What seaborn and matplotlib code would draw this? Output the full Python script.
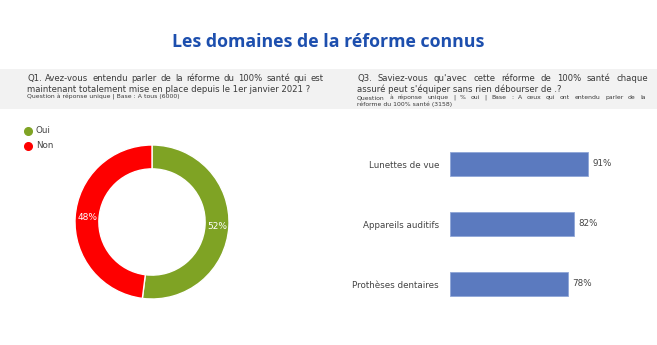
import matplotlib
matplotlib.use("Agg")
import matplotlib.pyplot as plt
import seaborn as sns
import pandas as pd
from matplotlib.patches import Rectangle

# ---- data ----
pie_labels = ["Oui", "Non"]
pie_values = [52, 48]
pie_colors = ["#7fa324", "#fe0000"]

bar_categories = ["Lunettes de vue", "Appareils auditifs", "Prothèses dentaires"]
bar_values = [91, 82, 78]
bar_color = "#5b7abf"

title = "Les domaines de la réforme connus"
q1_lines = ["Q1. Avez-vous entendu parler de la réforme du 100% santé qui est",
            "maintenant totalement mise en place depuis le 1er janvier 2021 ?"]
q1_note = ["Question à réponse unique | Base : A tous (6000)"]
q3_lines = ["Q3. Saviez-vous qu'avec cette réforme de 100% santé chaque",
            "assuré peut s'équiper sans rien débourser de .?"]
q3_note = ["Question à réponse unique | % oui | Base : A ceux qui ont entendu parler de la",
           "réforme du 100% santé (3158)"]

sns.set_theme(style="white")
plt.rcParams['font.family'] = ['DejaVu Sans']

W, H = 657, 345
fig = plt.figure(figsize=(W / 100, H / 100), dpi=100)
fig.patch.set_facecolor("white")
renderer = fig.canvas.get_renderer()


def fx(x):
    return x / W


def fy(y):
    return 1 - y / H


def put_line(x0, y, text, size, color, justify_to=None):
    # y is the baseline position in pixels from top
    if justify_to is None:
        fig.text(fx(x0), fy(y), text, ha="left", va="baseline", fontsize=size, color=color)
        return
    words = text.split(" ")
    objs = [fig.text(fx(x0), fy(y), w, ha="left", va="baseline", fontsize=size, color=color)
            for w in words]
    widths = [o.get_window_extent(renderer).width for o in objs]
    gap = (justify_to - x0 - sum(widths)) / max(len(words) - 1, 1)
    x = x0
    for o, w in zip(objs, widths):
        o.set_x(fx(x))
        x += w + gap


# grey header band
fig.add_artist(Rectangle((0, fy(109)), 1, (109 - 69) / H, transform=fig.transFigure,
                         facecolor="#f2f2f2", edgecolor="none", zorder=0))

fig.text(fx(328), fy(42), title, ha="center", va="center", fontsize=12.8,
         fontweight="bold", color="#1d4fae", family=["Open Sans", "DejaVu Sans"])

txt_color = "#3a3a3a"
qs, ns = 6.1, 4.45
put_line(27, 81, q1_lines[0], qs, txt_color, justify_to=324)
put_line(27, 92, q1_lines[1], qs, txt_color)
put_line(27, 99, q1_note[0], ns, txt_color)
put_line(357, 81, q3_lines[0], qs, txt_color, justify_to=648)
put_line(357, 92, q3_lines[1], qs, txt_color)
put_line(357, 99, q3_note[0], ns, txt_color, justify_to=646)
put_line(357, 106, q3_note[1], ns, txt_color)

# ---- donut ----
cx, cy, r = 152, 222, 77
axp = fig.add_axes([fx(cx - r), fy(cy + r), 2 * r / W, 2 * r / H])
wedges, _, autotexts = axp.pie(pie_values, colors=pie_colors, startangle=90, counterclock=False,
                               autopct=lambda p: f"{p:.0f}%", pctdistance=0.845,
                               wedgeprops=dict(width=0.31, edgecolor="white", linewidth=1),
                               textprops=dict(color="white", fontsize=6.5))
axp.set_xlim(-1, 1)
axp.set_ylim(-1, 1)
axp.set_aspect("equal")
axp.axis("off")

# legend
for i, (lab, col) in enumerate(zip(pie_labels, pie_colors)):
    y = 131 + 15 * i
    fig.add_artist(plt.Line2D([fx(28)], [fy(y)], marker="o", markersize=5.5, color=col,
                              linestyle="none", transform=fig.transFigure))
    fig.text(fx(36), fy(y), lab, ha="left", va="center", fontsize=6.3, color="#444444")

# ---- bar chart ----
axb = fig.add_axes([fx(450), fy(314), 151.5 / W, 180 / H])
df = pd.DataFrame({"cat": bar_categories, "val": bar_values})
sns.barplot(data=df, x="val", y="cat", ax=axb, color=bar_color, width=0.4, saturation=1,
            edgecolor="#8fa6d8", linewidth=0.6)
axb.set_xlim(0, 100)
axb.set_ylim(2.5, -0.5)
for c in axb.containers:
    axb.bar_label(c, labels=[f"{v}%" for v in bar_values], padding=3, fontsize=6.3, color="#444444")
axb.set_xlabel("")
axb.set_ylabel("")
axb.set_xticks([])
axb.tick_params(axis="y", length=0, pad=8, labelsize=6.3, labelcolor="#444444")
for s in axb.spines.values():
    s.set_visible(False)
axb.patch.set_alpha(0)

fig.savefig("out.png", dpi=100, facecolor="white")
